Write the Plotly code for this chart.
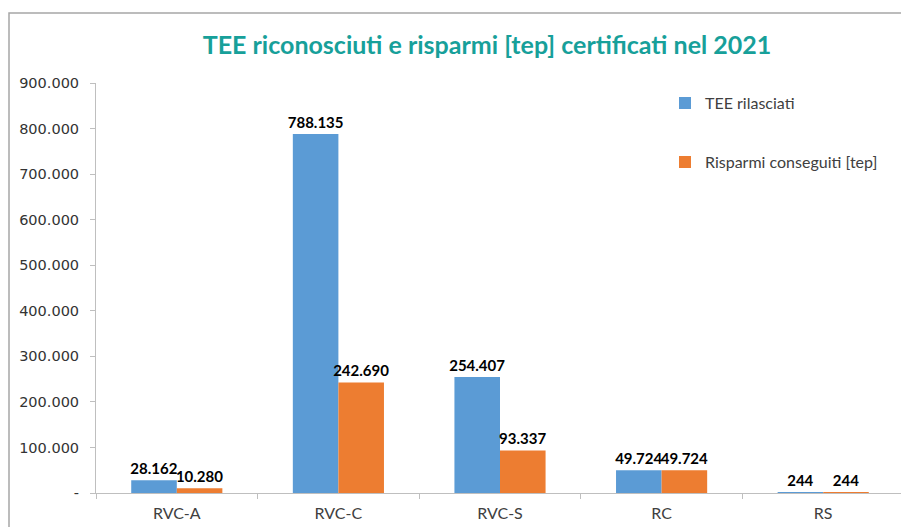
import plotly.graph_objects as go

categories = ["RVC-A", "RVC-C", "RVC-S", "RC", "RS"]
tee_rilasciati = [28162, 788135, 254407, 49724, 244]
risparmi_tep = [10280, 242690, 93337, 49724, 244]
y_tick_vals = [0, 100000, 200000, 300000, 400000, 500000, 600000, 700000, 800000, 900000]
y_tick_text = ["-", "100.000", "200.000", "300.000", "400.000", "500.000",
               "600.000", "700.000", "800.000", "900.000"]


def it_fmt(v):
    return f"{v:,}".replace(",", ".")


FONT = "Lato"
GREY = "#404040"

# figure is drawn inside the page's default 8px body margin
W, H = 901, 519
L, R, T, B = 88, 5, 75, 34
PW, PH = W - L - R, H - T - B

fig = go.Figure()
fig.add_trace(go.Bar(
    x=categories, y=tee_rilasciati, name="TEE rilasciati",
    marker=dict(color="#5B9BD5", line=dict(width=0)),
    text=[it_fmt(v) for v in tee_rilasciati], textposition="outside",
    constraintext="none",
    textfont=dict(family=FONT, size=15, color="black", weight="bold"),
    cliponaxis=False, legend="legend",
))
fig.add_trace(go.Bar(
    x=categories, y=risparmi_tep, name="Risparmi conseguiti [tep]",
    marker=dict(color="#ED7D31", line=dict(width=0)),
    text=[it_fmt(v) for v in risparmi_tep], textposition="outside",
    constraintext="none",
    textfont=dict(family=FONT, size=15, color="black", weight="bold"),
    cliponaxis=False, legend="legend2",
))

leg_x = (657 - L) / PW
fig.update_layout(
    width=W, height=H,
    margin=dict(l=L, r=R, t=T, b=B, autoexpand=False),
    paper_bgcolor="white", plot_bgcolor="white",
    font=dict(family=FONT, size=14, color=GREY),
    barmode="group", bargap=0.436, bargroupgap=0,
    title=dict(text="<b>TEE riconosciuti e risparmi [tep] certificati nel 2021</b>",
               font=dict(family=FONT, size=25, color="#17A09A"),
               x=479 / W, xref="container", xanchor="center",
               y=1 - 37 / H, yref="container", yanchor="middle"),
    showlegend=True,
    legend=dict(x=leg_x, y=0.951, xanchor="left", yanchor="middle",
                font=dict(family=FONT, size=16, color=GREY), bgcolor="rgba(0,0,0,0)"),
    legend2=dict(x=leg_x, y=0.807, xanchor="left", yanchor="middle",
                 font=dict(family=FONT, size=16, color=GREY), bgcolor="rgba(0,0,0,0)"),
    xaxis=dict(showline=True, linecolor="#BFBFBF", linewidth=1,
               ticks="outside", tickson="boundaries", ticklen=5, tickcolor="#BFBFBF",
               ticklabelstandoff=6, automargin=False,
               tickfont=dict(family=FONT, size=16, color=GREY), showgrid=False),
    yaxis=dict(range=[0, 900000], tickvals=y_tick_vals, ticktext=y_tick_text,
               showline=True, linecolor="#BFBFBF", linewidth=1,
               ticks="outside", ticklen=5, tickcolor="#BFBFBF",
               ticklabelstandoff=8, automargin=False,
               tickfont=dict(family="DejaVu Sans", size=14.5, color="#333333"),
               showgrid=False, zeroline=False),
    shapes=[dict(type="rect", xref="paper", yref="paper",
                 x0=(1 - L) / PW, x1=1.1, y0=-0.3, y1=(PH + T - 5) / PH,
                 line=dict(color="#A6A6A6", width=1.5), fillcolor="rgba(0,0,0,0)",
                 layer="below")],
)

fig.write_html("out.html")
